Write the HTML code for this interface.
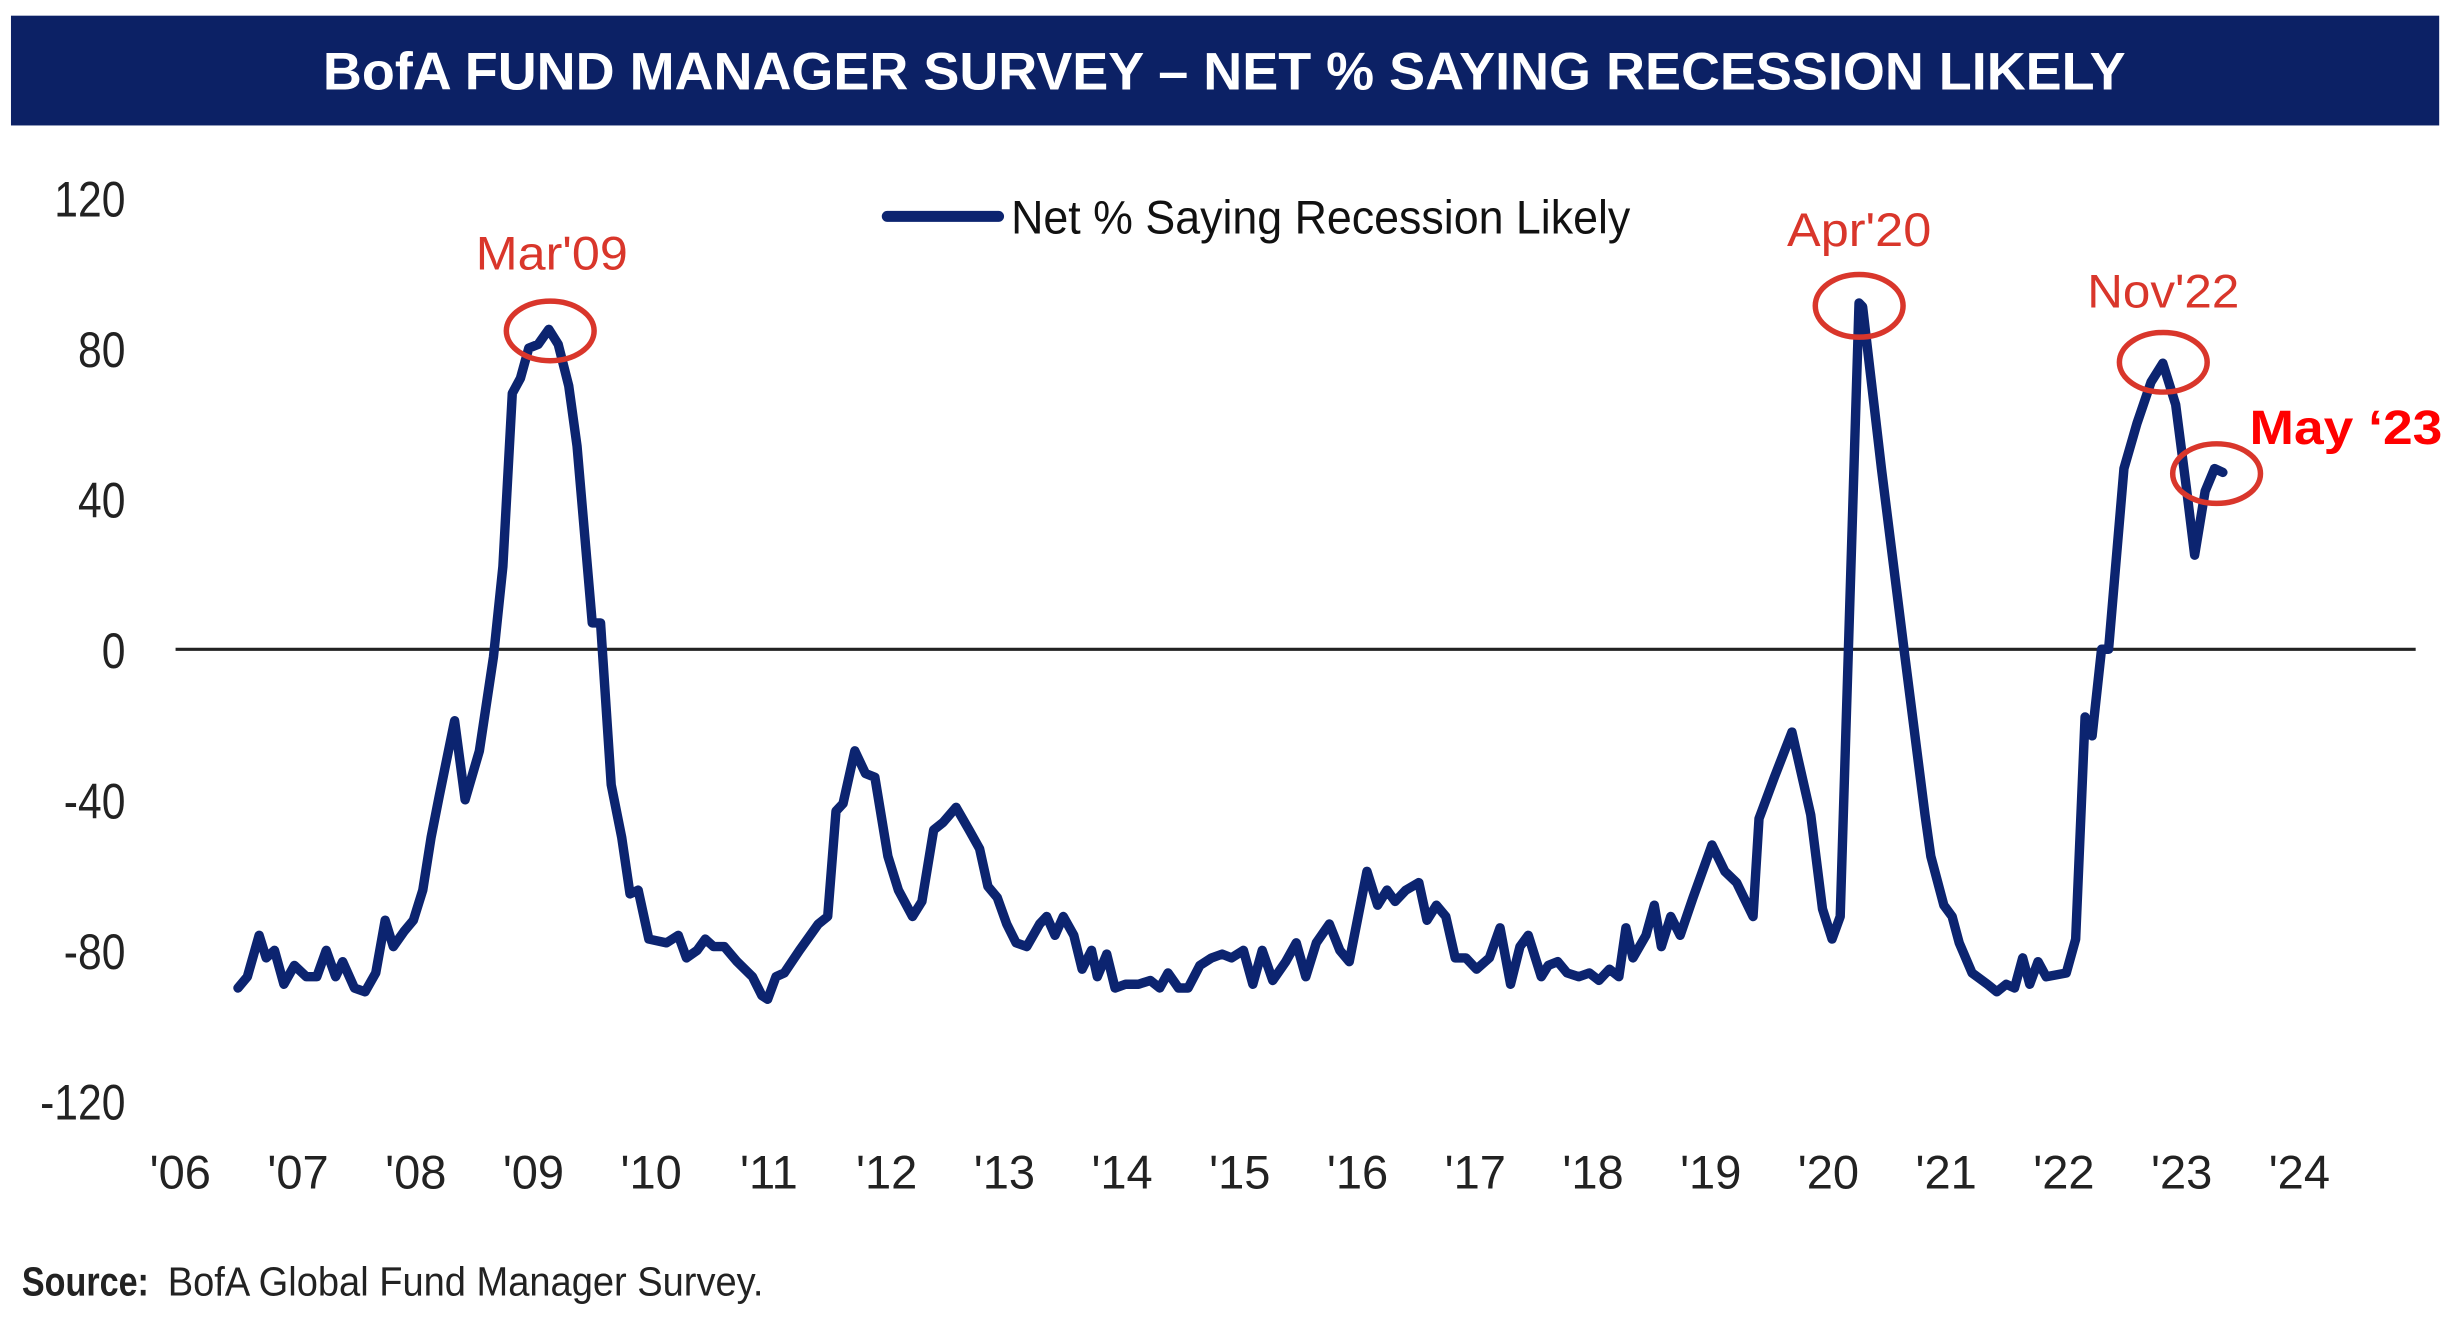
<!DOCTYPE html>
<html><head><meta charset="utf-8"><style>
html,body{margin:0;padding:0;background:#fff;width:2458px;height:1344px;overflow:hidden}
svg{display:block}
text{font-family:"Liberation Sans",sans-serif}
</style></head><body>
<svg id="chart" width="2458" height="1344" viewBox="0 0 1568 857" preserveAspectRatio="none" xmlns="http://www.w3.org/2000/svg">
<rect x="7" y="10" width="1549" height="70" fill="#0c2165"/>
<text x="781" y="57" text-anchor="middle" fill="#fff" font-size="34" font-weight="bold" textLength="1150" lengthAdjust="spacingAndGlyphs">BofA FUND MANAGER SURVEY – NET % SAYING RECESSION LIKELY</text>
<line x1="112" y1="414" x2="1541" y2="414" stroke="#222" stroke-width="2"/>
<g id="yaxis"></g>
<g id="xaxis"></g>
<path id="series" fill="none" stroke="#0c2470" stroke-width="6" stroke-linejoin="round" stroke-linecap="round"/>
<g>
<line x1="566" y1="138" x2="637" y2="138" stroke="#0c2470" stroke-width="7" stroke-linecap="round"/>
<text x="645" y="149" font-size="30" fill="#111" textLength="395" lengthAdjust="spacingAndGlyphs">Net % Saying Recession Likely</text>
</g>
<g fill="none" stroke="#d9362b" stroke-width="3.5">
<ellipse cx="351" cy="211" rx="28" ry="19"/>
<ellipse cx="1186" cy="195" rx="28" ry="20"/>
<ellipse cx="1380" cy="231" rx="28" ry="19"/>
<ellipse cx="1414" cy="302" rx="28" ry="19"/>
</g>
<text x="352" y="172" text-anchor="middle" fill="#d9362b" font-size="30" textLength="97" lengthAdjust="spacingAndGlyphs">Mar'09</text>
<text x="1186" y="157" text-anchor="middle" fill="#d9362b" font-size="30" textLength="92" lengthAdjust="spacingAndGlyphs">Apr'20</text>
<text x="1380" y="196" text-anchor="middle" fill="#d9362b" font-size="30" textLength="97" lengthAdjust="spacingAndGlyphs">Nov'22</text>
<text x="1435" y="283" fill="#ff0000" font-size="31" font-weight="bold" textLength="123" lengthAdjust="spacingAndGlyphs">May ‘23</text>
<text x="14" y="826" font-size="26" fill="#222" font-weight="bold" textLength="81" lengthAdjust="spacingAndGlyphs">Source:</text>
<text x="107" y="826" font-size="26" fill="#222" textLength="380" lengthAdjust="spacingAndGlyphs">BofA Global Fund Manager Survey.</text>
</svg>
<script>
const yTicks = [120, 80, 40, 0, -40, -80, -120];
const yTickLabels = ["120", "80", "40", "0", "-40", "-80", "-120"];
const xTickYears = [2006,2007,2008,2009,2010,2011,2012,2013,2014,2015,2016,2017,2018,2019,2020,2021,2022,2023,2024];
const xTickLabels = ["'06","'07","'08","'09","'10","'11","'12","'13","'14","'15","'16","'17","'18","'19","'20","'21","'22","'23","'24"];
const yearsSince2006 = [0.49,0.57,0.67,0.73,0.80,0.88,0.97,1.07,1.16,1.24,1.32,1.38,1.48,1.57,1.66,1.74,1.81,1.90,1.98,2.06,2.13,2.20,2.33,2.42,2.54,2.66,2.74,2.82,2.89,2.96,3.04,3.13,3.21,3.30,3.37,3.50,3.57,3.66,3.75,3.82,3.89,3.98,4.13,4.23,4.30,4.39,4.46,4.53,4.62,4.73,4.86,4.94,4.99,5.06,5.13,5.26,5.42,5.50,5.57,5.63,5.73,5.82,5.90,6.01,6.10,6.22,6.30,6.40,6.48,6.59,6.70,6.79,6.86,6.94,7.02,7.10,7.19,7.30,7.36,7.43,7.50,7.59,7.66,7.74,7.79,7.87,7.94,8.03,8.14,8.24,8.32,8.39,8.48,8.56,8.66,8.76,8.85,8.93,9.03,9.11,9.19,9.28,9.39,9.48,9.56,9.65,9.76,9.85,9.93,10.08,10.17,10.25,10.32,10.41,10.52,10.59,10.67,10.75,10.83,10.92,11.01,11.12,11.21,11.30,11.38,11.45,11.56,11.62,11.70,11.78,11.88,11.97,12.05,12.14,12.22,12.28,12.34,12.45,12.52,12.58,12.66,12.74,12.85,13.01,13.12,13.22,13.36,13.41,13.54,13.69,13.85,13.95,14.03,14.10,14.26,14.29,14.45,14.65,14.82,14.87,14.98,15.05,15.11,15.22,15.35,15.43,15.51,15.58,15.65,15.71,15.78,15.85,16.02,16.10,16.18,16.24,16.32,16.38,16.51,16.62,16.74,16.84,16.95,17.04,17.11,17.20,17.28,17.35];
const netPct = [-90,-87,-76,-82,-80,-89,-84,-87,-87,-80,-87,-83,-90,-91,-86,-72,-79,-75,-72,-64,-50,-39,-19,-40,-27,-2,22,68,72,80,81,85,81,70,54,7,7,-36,-50,-65,-64,-77,-78,-76,-82,-80,-77,-79,-79,-83,-87,-92,-93,-87,-86,-80,-73,-71,-43,-41,-27,-33,-34,-55,-64,-71,-67,-48,-46,-42,-48,-53,-63,-66,-73,-78,-79,-73,-71,-76,-71,-76,-85,-80,-87,-81,-90,-89,-89,-88,-90,-86,-90,-90,-84,-82,-81,-82,-80,-89,-80,-88,-83,-78,-87,-78,-73,-80,-83,-59,-68,-64,-67,-64,-62,-72,-68,-71,-82,-82,-85,-82,-74,-89,-79,-76,-87,-84,-83,-86,-87,-86,-88,-85,-87,-74,-82,-76,-68,-79,-71,-76,-66,-52,-59,-62,-71,-45,-34,-22,-44,-69,-77,-71,92,91,48,-2,-44,-55,-68,-71,-78,-86,-89,-91,-89,-90,-82,-89,-83,-87,-86,-77,-18,-23,0,0,48,60,71,76,65,43,25,42,48,47];

const X0 = 115, PX_PER_YEAR = 75.1, Y0 = 414, PX_PER_UNIT = 2.4;
function xScale(year){ return X0 + (year - 2006) * PX_PER_YEAR; }
function yScale(v){ return Y0 - v * PX_PER_UNIT; }
const NS = "http://www.w3.org/2000/svg";

const yAxis = document.getElementById('yaxis');
yTicks.forEach((v, i) => {
  const t = document.createElementNS(NS, 'text');
  
  
  t.setAttribute('x', 80);
  t.setAttribute('y', yScale(v) + 12);
  t.setAttribute('text-anchor', 'end');
  t.setAttribute('font-size', '32');
  t.setAttribute('fill', '#222');
  t.setAttribute('transform', 'translate(80 0) scale(0.85 1) translate(-80 0)');
  t.textContent = yTickLabels[i];
  yAxis.appendChild(t);
});

const xAxis = document.getElementById('xaxis');
xTickYears.forEach((yr, i) => {
  const t = document.createElementNS(NS, 'text');
  
  
  t.setAttribute('x', xScale(yr));
  t.setAttribute('y', 758);
  t.setAttribute('text-anchor', 'middle');
  t.setAttribute('font-size', '30');
  t.setAttribute('fill', '#222');
  t.textContent = xTickLabels[i];
  xAxis.appendChild(t);
});

let d = '';
netPct.forEach((v, i) => {
  d += (i ? 'L' : 'M') + xScale(2006 + yearsSince2006[i]).toFixed(1) + ',' + yScale(v).toFixed(1);
});
document.getElementById('series').setAttribute('d', d);
</script>
</body></html>
